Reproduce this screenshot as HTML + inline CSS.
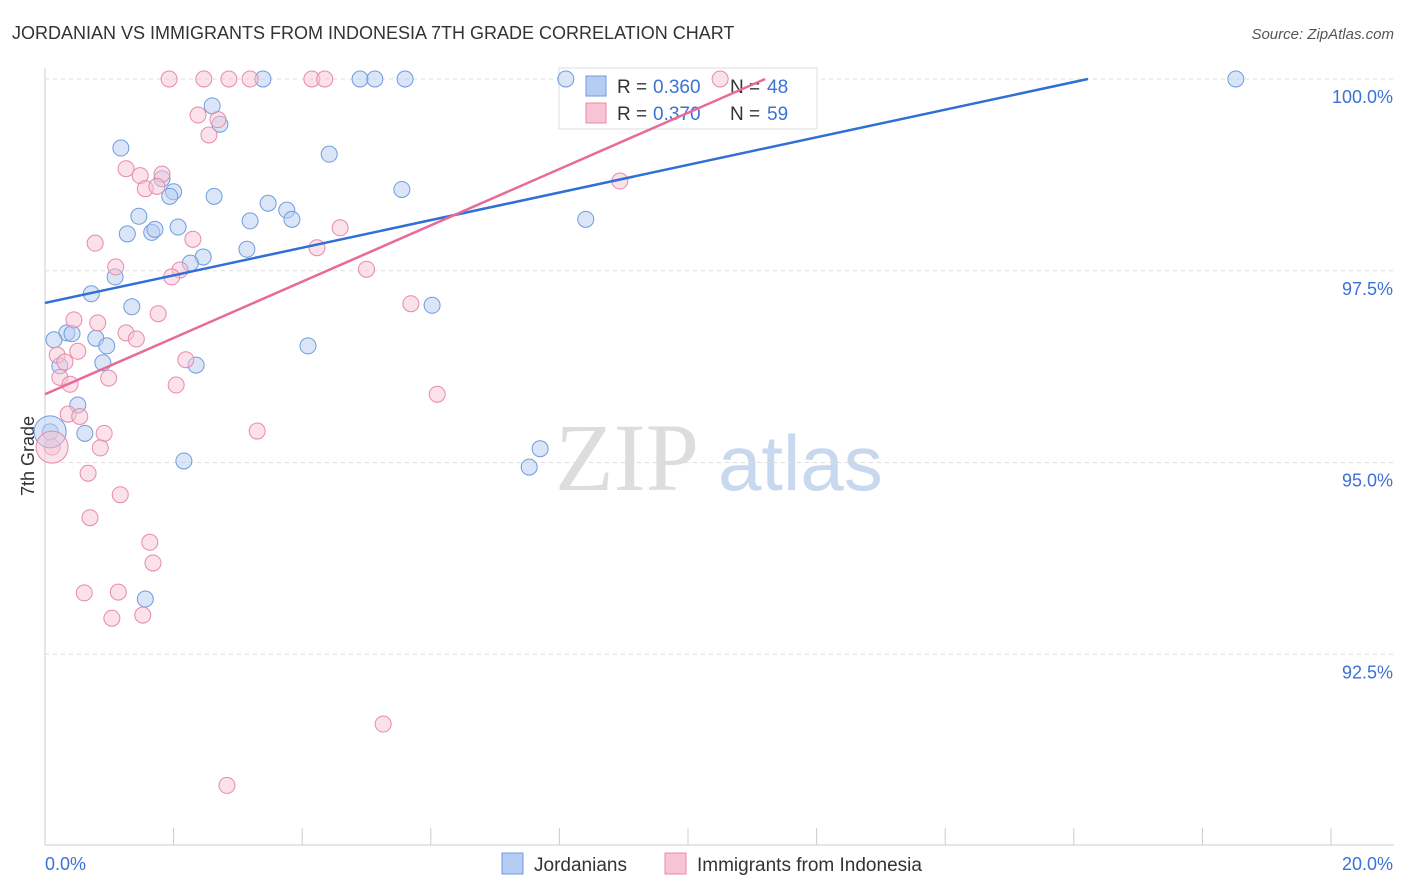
<!DOCTYPE html>
<html><head><meta charset="utf-8">
<style>
body{margin:0;background:#fff;font-family:"Liberation Sans",sans-serif;}
#c{position:relative;width:1406px;height:892px;overflow:hidden;}
</style></head>
<body>
<div id="c">
<svg id="s" width="1406" height="892" xmlns="http://www.w3.org/2000/svg">
<text x="12" y="39" font-size="18" fill="#333">JORDANIAN VS IMMIGRANTS FROM INDONESIA 7TH GRADE CORRELATION CHART</text>
<text x="1394" y="39" font-size="15" fill="#555" text-anchor="end" font-style="italic">Source: ZipAtlas.com</text>
<text x="555" y="490" font-size="96" fill="#ddd" font-family="Liberation Serif,serif">ZIP</text>
<text x="718" y="490" font-size="78" fill="#c8d8ee">atlas</text>
<text x="34" y="456" font-size="18" fill="#333" text-anchor="middle" transform="rotate(-90 34 456)">7th Grade</text>
<g id="grid"></g>
<g>
<rect x="559" y="68" width="258" height="61" fill="#fff" stroke="#ddd"/>
<rect x="586" y="76" width="20" height="20" fill="#b5cdf2" stroke="#6f9be0"/>
<text x="617" y="93" font-size="19" fill="#333">R =</text><text x="653" y="93" font-size="19" fill="#3a72d6">0.360</text>
<text x="730" y="93" font-size="19" fill="#333">N =</text><text x="767" y="93" font-size="19" fill="#3a72d6">48</text>
<rect x="586" y="103" width="20" height="20" fill="#f7c4d4" stroke="#e88aa8"/>
<text x="617" y="120" font-size="19" fill="#333">R =</text><text x="653" y="120" font-size="19" fill="#3a72d6">0.370</text>
<text x="730" y="120" font-size="19" fill="#333">N =</text><text x="767" y="120" font-size="19" fill="#3a72d6">59</text>
</g>
<g id="pts"></g><g id="lines"></g>
<g>
<rect x="502" y="853" width="21" height="21" fill="#b5cdf2" stroke="#6f9be0"/>
<text x="534" y="871" font-size="19" fill="#333">Jordanians</text>
<rect x="665" y="853" width="21" height="21" fill="#f7c4d4" stroke="#e88aa8"/>
<text x="697" y="871" font-size="19" fill="#333">Immigrants from Indonesia</text>
</g>
</svg>
</div>
<script>
const xTicks=[0,2,4,6,8,10,12,14,16,18,20];
const yTicks=[92.5,95,97.5,100];
const blueX=[3.39,4.9,5.13,5.6,8.1,18.52,2.6,2.72,1.18,4.42,1.82,2.0,1.94,2.63,5.55,3.47,3.76,1.46,3.84,3.19,8.41,1.28,1.66,1.71,2.07,3.14,2.46,2.26,1.09,0.72,1.35,6.02,0.34,0.42,0.14,0.79,0.96,4.09,0.9,2.35,0.23,0.51,0.62,0.08,2.16,7.7,7.53,1.56];
const blueY=[100,100,100,100,100,100,99.65,99.41,99.1,99.02,98.7,98.53,98.47,98.47,98.56,98.38,98.29,98.21,98.17,98.15,98.17,97.98,98.0,98.04,98.07,97.78,97.68,97.6,97.42,97.2,97.03,97.05,96.69,96.68,96.6,96.62,96.52,96.52,96.3,96.27,96.26,95.75,95.38,95.4,95.02,95.18,94.94,93.22];
const pinkX=[1.93,2.47,2.86,3.19,4.15,4.35,10.5,2.38,2.69,2.55,1.26,1.48,1.82,1.56,1.74,8.94,4.59,2.3,0.78,4.23,5.0,1.1,2.1,1.97,5.69,1.76,0.45,0.82,1.26,1.42,0.19,0.51,0.31,2.19,0.99,0.23,0.39,2.04,6.1,0.36,0.54,3.3,0.92,0.86,0.11,0.67,1.17,0.7,1.63,1.68,0.61,1.14,1.04,1.52,5.26,2.83];
const pinkY=[100,100,100,100,100,100,100,99.53,99.47,99.27,98.83,98.74,98.76,98.57,98.6,98.67,98.06,97.91,97.86,97.8,97.52,97.55,97.51,97.42,97.07,96.94,96.86,96.82,96.69,96.61,96.4,96.45,96.31,96.34,96.1,96.11,96.02,96.01,95.89,95.63,95.6,95.41,95.38,95.19,95.2,94.86,94.58,94.28,93.96,93.69,93.3,93.31,92.97,93.01,91.59,90.79];
const blueTrend=[[0,97.08],[16.22,100]];
const pinkTrend=[[0,95.89],[11.2,100]];
const X=v=>45+v/20*1286, Y=v=>79+(100-v)*76.7;
const NS="http://www.w3.org/2000/svg";
function mk(t,a,p){const e=document.createElementNS(NS,t);for(const k in a)e.setAttribute(k,a[k]);p.appendChild(e);return e;}
const g=document.getElementById('grid'),P=document.getElementById('pts'),L=document.getElementById('lines');
mk('line',{x1:45,y1:68,x2:45,y2:845,stroke:'#ccc'},g);
mk('line',{x1:45,y1:845,x2:1394,y2:845,stroke:'#ccc'},g);
yTicks.forEach(v=>{const l=mk('line',{x1:45,y1:Y(v),x2:1394,y2:Y(v),stroke:'#ddd','stroke-dasharray':'4,4'},g);


const t=mk('text',{x:1393,y:Y(v)+24,'font-size':18,fill:'#3a72d6','text-anchor':'end'},g);t.textContent=v.toFixed(1)+'%';

});
xTicks.forEach(v=>{const l=mk('line',{x1:X(v),y1:828,x2:X(v),y2:845,stroke:'#ccc'},g);

});
[[0,'start'],[20,'end']].forEach(([v,a])=>{const t=mk('text',{x:v?1393:45,y:870,'font-size':18,fill:'#3a72d6','text-anchor':a},g);t.textContent=v.toFixed(1)+'%';

});
function dots(xs,ys,f,st,n){xs.forEach((x,i)=>{const c=mk('circle',{cx:X(x),cy:Y(ys[i]),r:8,fill:f,'fill-opacity':0.5,stroke:st,'stroke-width':1},P);

});}
dots(blueX,blueY,'#b5cdf2','#6f9be0','jordanian-point');
dots(pinkX,pinkY,'#f7c4d4','#e88aa8','indonesia-point');
[[0.08,95.4,'#b5cdf2','#6f9be0'],[0.11,95.2,'#f7c4d4','#e88aa8']].forEach(d=>{const c=mk('circle',{cx:X(d[0]),cy:Y(d[1]),r:16,fill:d[2],'fill-opacity':0.5,stroke:d[3]},P);

});
const b=mk('line',{x1:X(blueTrend[0][0]),y1:Y(blueTrend[0][1]),x2:X(blueTrend[1][0]),y2:Y(blueTrend[1][1]),stroke:'#2f6fd6','stroke-width':2.5},L);


const p=mk('line',{x1:X(pinkTrend[0][0]),y1:Y(pinkTrend[0][1]),x2:X(pinkTrend[1][0]),y2:Y(pinkTrend[1][1]),stroke:'#e86a98','stroke-width':2.5},L);


</script>
</body></html>
